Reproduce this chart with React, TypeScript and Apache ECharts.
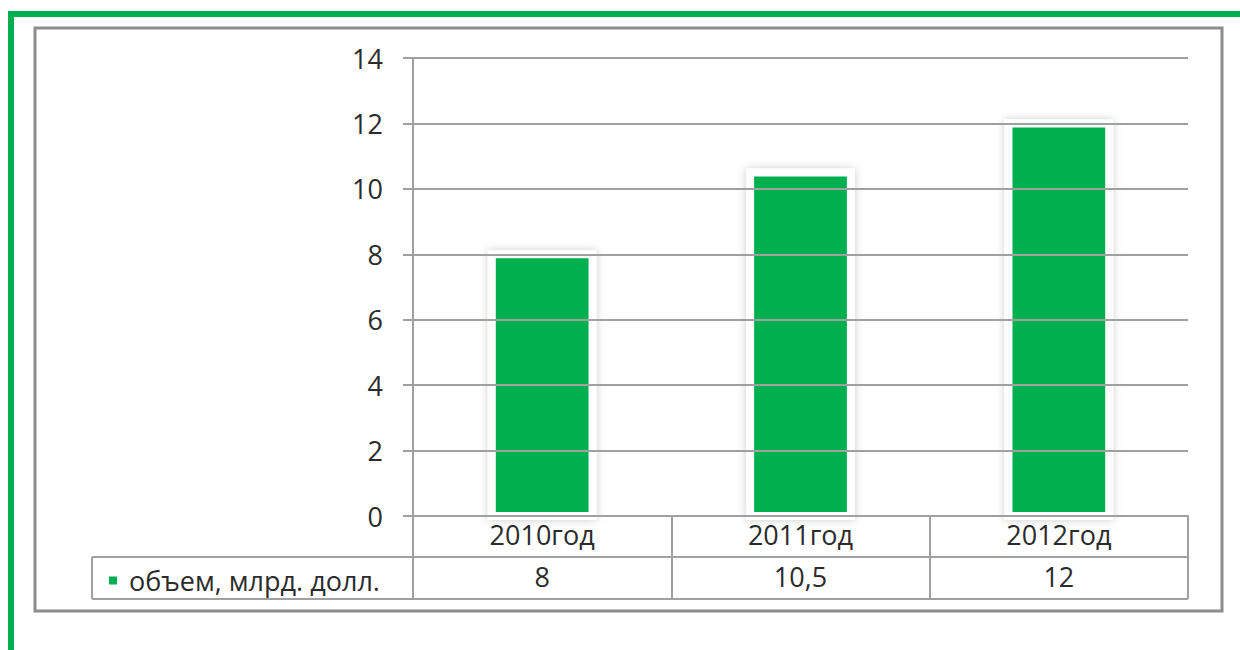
import React, { useEffect, useRef } from "react";
import * as echarts from "echarts";

const categories = ["2010год", "2011год", "2012год"];
const values = [8, 10.5, 12];
const seriesName = "объем, млрд. долл.";
const yMin = 0;
const yMax = 14;
const yStep = 2;

const GREEN = "#00b050";
const LINE = "#a0a0a0";
const TEXT = "#2b2b2b";
const FONT = "'Open Sans', 'Noto Sans', sans-serif";
const FS = 27;

export default function App() {
  const ref = useRef<HTMLDivElement>(null);
  useEffect(() => {
    if (!ref.current) return;
    const chart = echarts.init(ref.current, null, { renderer: "svg" });
    const valueLabels = values.map((v) => String(v).replace(".", ","));
    chart.setOption({
      animation: false,
      backgroundColor: "#fff",
      textStyle: { fontFamily: FONT },
      grid: { left: 413, right: 52, top: 58, bottom: 134, containLabel: false },
      legend: {
        show: true,
        left: 104,
        top: 562,
        icon: "rect",
        itemWidth: 8,
        itemHeight: 8,
        data: [seriesName],
        textStyle: { fontSize: FS, color: TEXT, fontFamily: FONT, padding: [0, 0, 0, 7] },
      },
      xAxis: [
        {
          type: "category",
          data: categories,
          position: "bottom",
          z: 5,
          axisLine: { show: true, lineStyle: { color: LINE, width: 2 } },
          axisTick: { show: true, interval: 0, length: 83, lineStyle: { color: LINE, width: 2 } },
          axisLabel: { fontSize: FS, color: TEXT, fontFamily: FONT, margin: 5, interval: 0 },
          splitLine: { show: false },
        },
        {
          type: "category",
          data: valueLabels,
          position: "bottom",
          offset: 42,
          z: 5,
          axisLine: { show: false },
          axisTick: { show: false },
          axisLabel: { fontSize: FS, color: TEXT, fontFamily: FONT, margin: 5, interval: 0 },
          splitLine: { show: false },
        },
      ],
      yAxis: {
        type: "value",
        min: yMin,
        max: yMax,
        interval: yStep,
        z: 5,
        axisLine: { show: true, lineStyle: { color: LINE, width: 2 } },
        axisTick: { show: true, length: 10, lineStyle: { color: LINE, width: 2 } },
        axisLabel: { fontSize: FS, color: TEXT, fontFamily: FONT, margin: 30 },
        splitLine: { show: true, lineStyle: { color: LINE, width: 2 } },
      },
      series: [
        {
          name: seriesName,
          type: "custom",
          xAxisIndex: 0,
          z: 2,
          itemStyle: { color: GREEN },
          encode: { x: 0, y: 1 },
          data: values.map((v, i) => [i, v]),
          renderItem: (params: any, api: any) => {
            const idx = api.value(0);
            const v = api.value(1);
            const top = api.coord([idx, v]);
            const base = api.coord([idx, 0]);
            const band = api.size([1, 0])[0];
            const w = band * 0.39;
            return {
              type: "rect",
              shape: { x: top[0] - w / 2, y: top[1], width: w, height: base[1] - top[1] },
              style: {
                fill: GREEN,
                stroke: "#ffffff",
                lineWidth: 8,
                shadowBlur: 8,
                shadowColor: "rgba(0,0,0,0.2)",
              },
            };
          },
        },
      ],
      graphic: [
        {
          type: "rect",
          z: -10,
          shape: { x: 35, y: 28, width: 1187, height: 583 },
          style: { fill: "#fff", stroke: "#8c8c8c", lineWidth: 3 },
          silent: true,
        },
        { type: "rect", z: 10, shape: { x: 8, y: 11, width: 1232, height: 6 }, style: { fill: GREEN }, silent: true },
        { type: "rect", z: 10, shape: { x: 8, y: 11, width: 6, height: 639 }, style: { fill: GREEN }, silent: true },
        { type: "line", z: 10, shape: { x1: 92, y1: 557, x2: 1188, y2: 557 }, style: { stroke: LINE, lineWidth: 2 }, silent: true },
        { type: "line", z: 10, shape: { x1: 92, y1: 599, x2: 1188, y2: 599 }, style: { stroke: LINE, lineWidth: 2 }, silent: true },
        { type: "line", z: 10, shape: { x1: 92, y1: 557, x2: 92, y2: 599 }, style: { stroke: LINE, lineWidth: 2 }, silent: true },
        { type: "line", z: 10, shape: { x1: 413, y1: 516, x2: 1188, y2: 516 }, style: { stroke: LINE, lineWidth: 2 }, silent: true },
      ],
    });
    return () => chart.dispose();
  }, []);
  return (
    <div
      ref={ref}
      style={{ position: "absolute", left: 0, top: 0, width: 1240, height: 650, background: "#fff" }}
    />
  );
}
